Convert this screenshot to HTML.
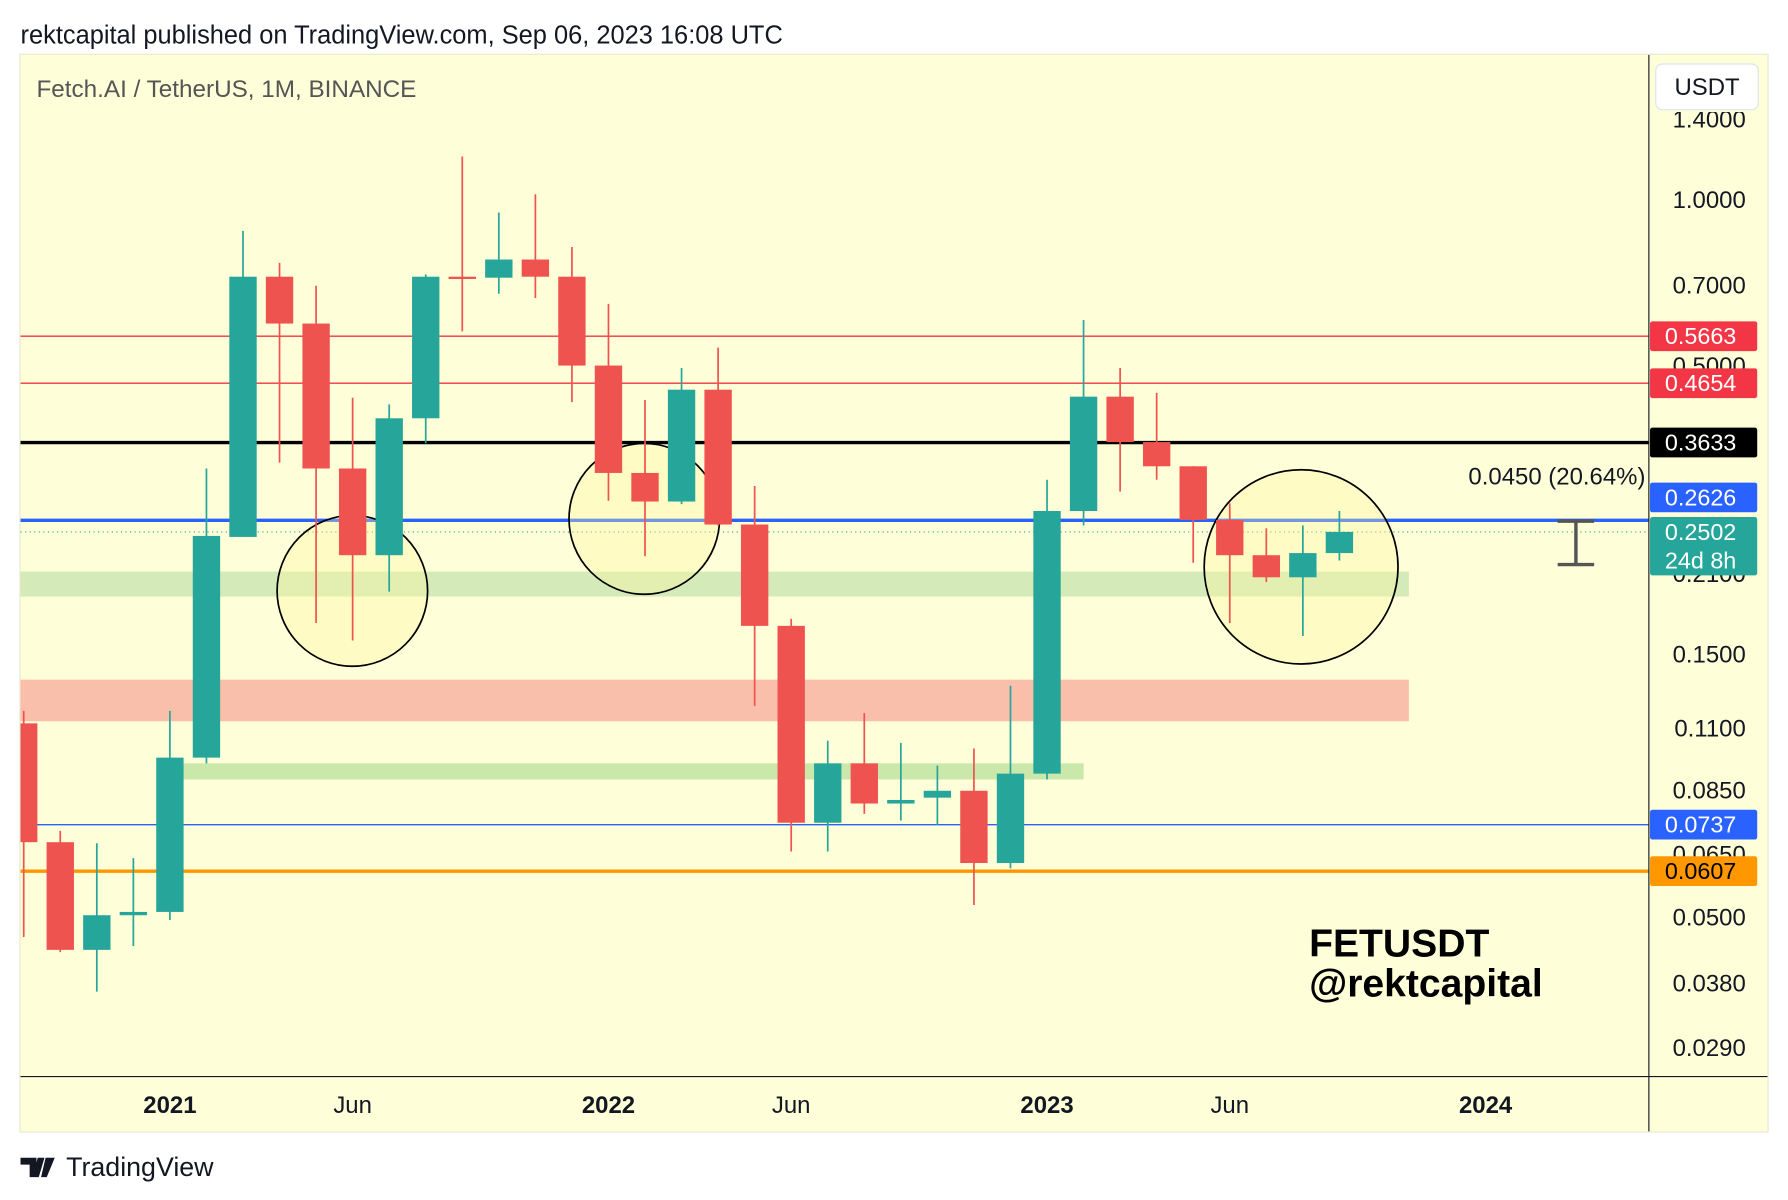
<!DOCTYPE html>
<html><head><meta charset="utf-8">
<style>
html,body{margin:0;padding:0;background:#fff;}
svg{display:block;font-family:"Liberation Sans",Arial,sans-serif;}
</style></head>
<body>
<svg id="chart" width="1788" height="1200" viewBox="0 0 1568 1050" preserveAspectRatio="none" xmlns="http://www.w3.org/2000/svg">
  <rect x="0" y="0" width="1568" height="1050" fill="#ffffff"/>
  <text x="18" y="38" font-size="22.3" fill="#131722">rektcapital published on TradingView.com, Sep 06, 2023 16:08 UTC</text>
  <rect x="17.5" y="47.5" width="1533" height="943" fill="#fefed8" stroke="#e8e8d0"/>
  <g id="plot"></g>
  <text x="32" y="85" font-size="21.3" fill="#555">Fetch.AI / TetherUS, 1M, BINANCE</text>
  <g>
    <rect x="1452" y="56" width="90" height="40" rx="6" fill="#fff" stroke="#e0e3eb"/>
    <text x="1497" y="83" font-size="21" text-anchor="middle" fill="#131722">USDT</text>
  </g>
  <text x="1148" y="837" font-size="34.3" font-weight="bold" fill="#000">FETUSDT</text>
  <text x="1148" y="872" font-size="34.3" font-weight="bold" fill="#000">@rektcapital</text>
  <g>
    <path d="M18 1013h14v17h-6v-11h-8z M33 1013h6l-5 17h-5z M40 1013h8l-7 17h-5z" fill="#131722"/>
    <text x="58" y="1029" font-size="23.5" fill="#131722">TradingView</text>
  </g>
</svg>
<script>
const months = ["Sep20","Oct20","Nov20","Dec20","Jan21","Feb21","Mar21","Apr21","May21","Jun21","Jul21","Aug21","Sep21","Oct21","Nov21","Dec21","Jan22","Feb22","Mar22","Apr22","May22","Jun22","Jul22","Aug22","Sep22","Oct22","Nov22","Dec22","Jan23","Feb23","Mar23","Apr23","May23","Jun23","Jul23","Aug23","Sep23"];
const opens  = [0.1125,0.0685,0.0437,0.0505,0.0512,0.0975,0.245,0.726,0.597,0.326,0.227,0.402,0.726,0.723,0.780,0.726,0.501,0.320,0.284,0.453,0.258,0.169,0.0743,0.0952,0.0805,0.0825,0.0849,0.0628,0.0912,0.273,0.440,0.364,0.329,0.263,0.227,0.207,0.229];
const highs  = [0.1185,0.0718,0.0682,0.0641,0.1185,0.326,0.879,0.769,0.699,0.438,0.426,0.733,1.199,0.949,1.024,0.822,0.648,0.434,0.496,0.540,0.303,0.174,0.1047,0.1174,0.1037,0.0943,0.1013,0.1316,0.311,0.606,0.496,0.447,0.329,0.282,0.254,0.257,0.273];
const lows   = [0.0461,0.0433,0.0367,0.0444,0.0495,0.0952,0.245,0.334,0.171,0.159,0.195,0.362,0.578,0.676,0.664,0.430,0.285,0.226,0.281,0.257,0.121,0.0659,0.0659,0.0771,0.0750,0.0735,0.0527,0.0614,0.0890,0.257,0.296,0.311,0.220,0.171,0.203,0.162,0.222];
const closes = [0.0685,0.0437,0.0505,0.0512,0.0975,0.246,0.726,0.597,0.326,0.227,0.402,0.726,0.723,0.780,0.726,0.501,0.320,0.284,0.453,0.258,0.169,0.0743,0.0952,0.0805,0.0817,0.0849,0.0628,0.0912,0.273,0.440,0.364,0.329,0.263,0.227,0.207,0.229,0.2502];
const tickValues = [1.4,1.0,0.7,0.5,0.21,0.15,0.11,0.085,0.065,0.05,0.038,0.029];
const tickLabels = ["1.4000","1.0000","0.7000","0.5000","0.2100","0.1500","0.1100","0.0850","0.0650","0.0500","0.0380","0.0290"];
const levelValues = [0.5663,0.4654,0.3633,0.2626,0.0737,0.0607];
const levelLabels = ["0.5663","0.4654","0.3633","0.2626","0.0737","0.0607"];
const levelColors = ["#f23645","#f23645","#000000","#2962ff","#2962ff","#ff9800"];
const levelWidths = [1.2,1.2,3,3,1.2,3];
const timeLabels = ["2021","Jun","2022","Jun","2023","Jun","2024"];
const timeIndex = [4,9,16,21,28,33,40];
const zoneTop = [0.212,0.135,0.0952];
const zoneBottom = [0.191,0.1135,0.0890];
const zoneStart = [0,0,4.35];
const zoneEnd = [38.4,38.4,29.5];
const zoneColors = ["#cfe8b5","#f9b8a6","#c5e6a6"];
const lastPrice = 0.2502;

const NS="http://www.w3.org/2000/svg";
const svg=document.getElementById('chart');
const plot=document.getElementById('plot');
const PL=18, PR=1446, PT=48, PB=942;
function y(p){return 175-209.6*Math.log(p);}
function x(i){return 149+(i-4)*32.05;}
function mk(tag,attrs,parent){const e=document.createElementNS(NS,tag);for(const k in attrs)e.setAttribute(k,attrs[k]);(parent||plot).appendChild(e);return e;}

const defs=mk('defs',{},svg);
const cp=mk('clipPath',{id:'clip'},defs);
mk('rect',{x:PL,y:PT,width:PR-PL,height:PB-PT},cp);
plot.setAttribute('clip-path','url(#clip)');

for(let k=0;k<zoneTop.length;k++){
  const r=mk('rect',{x:x(zoneStart[k])-16,y:y(zoneTop[k]),width:x(zoneEnd[k])-x(zoneStart[k]),height:y(zoneBottom[k])-y(zoneTop[k]),fill:zoneColors[k],opacity:0.9});
  
  
}
for(let k=0;k<levelValues.length;k++){
  const l=mk('line',{x1:PL,x2:PR,y1:y(levelValues[k]),y2:y(levelValues[k]),stroke:levelColors[k],'stroke-width':levelWidths[k]});
  
  
}
const lp=mk('line',{x1:PL,x2:PR,y1:y(lastPrice),y2:y(lastPrice),stroke:'#26a69a','stroke-width':1,'stroke-dasharray':'1 3'});



const circles=[[309,517,66,66],[565,454,66,66],[1141,496,85,85]];
circles.forEach((cc,k)=>{
  const e=mk('ellipse',{cx:cc[0],cy:cc[1],rx:cc[2],ry:cc[3],fill:'#fffaa0','fill-opacity':0.35,stroke:'#000','stroke-width':1.5});
  
  
});

for(let i=0;i<months.length;i++){
  const up=closes[i]>=opens[i];
  const c=up?'#26a69a':'#ef5350';
  const g=mk('g',{});
  
  
  mk('line',{x1:x(i),x2:x(i),y1:y(highs[i]),y2:y(lows[i]),stroke:c,'stroke-width':1.5},g);
  const t=y(Math.max(opens[i],closes[i])), b=y(Math.min(opens[i],closes[i]));
  mk('rect',{x:x(i)-12,y:t,width:24,height:Math.max(2,b-t),fill:c},g);
}

const mg=mk('g',{stroke:'#555','stroke-width':3});


mk('line',{x1:1366,x2:1398,y1:456,y2:456},mg);
mk('line',{x1:1366,x2:1398,y1:494,y2:494},mg);
mk('line',{x1:1382,x2:1382,y1:456,y2:494},mg);
const mt=mk('text',{x:1443,y:424,'font-size':21,fill:'#131722','text-anchor':'end'},svg);
mt.textContent='0.0450 (20.64%)';



const ax=mk('line',{x1:PR,x2:PR,y1:PT,y2:990,stroke:'#131722','stroke-width':1},svg);


const bx=mk('line',{x1:PL,x2:1550,y1:PB,y2:PB,stroke:'#131722','stroke-width':1},svg);



const axclip=mk('clipPath',{id:'axclip'},defs);
mk('rect',{x:PR,y:PT+50,width:110,height:PB-PT-50},axclip);
const tg=mk('g',{'clip-path':'url(#axclip)'},svg);
for(let k=0;k<tickValues.length;k++){
  const t=mk('text',{x:1531,y:y(tickValues[k])+7,'font-size':21,fill:'#131722','text-anchor':'end'},tg);
  t.textContent=tickLabels[k];
  
  
}
for(let k=0;k<levelValues.length;k++){
  let cy=y(levelValues[k]);
  if(levelLabels[k]==="0.2626") cy-=20;
  const g=mk('g',{},svg);
  
  
  mk('rect',{x:1447,y:cy-13,width:94,height:26,rx:2,fill:levelColors[k]},g);
  const t=mk('text',{x:1460,y:cy+7,'font-size':20.5,fill:levelLabels[k]==="0.0607"?'#000':'#fff'},g);
  t.textContent=levelLabels[k];
}
const lg=mk('g',{},svg);


mk('rect',{x:1447,y:y(lastPrice)-13,width:94,height:51,rx:2,fill:'#26a69a'},lg);
const l1=mk('text',{x:1460,y:y(lastPrice)+7,'font-size':20.5,fill:'#fff'},lg);
l1.textContent=lastPrice.toFixed(4);
const l2=mk('text',{x:1460,y:y(lastPrice)+32,'font-size':20.5,fill:'#fff'},lg);
l2.textContent='24d 8h';

for(let k=0;k<timeLabels.length;k++){
  const isYear=/^\d{4}$/.test(timeLabels[k]);
  const t=mk('text',{x:x(timeIndex[k]),y:974,'font-size':21,fill:'#131722','text-anchor':'middle','font-weight':isYear?'bold':'normal'},svg);
  t.textContent=timeLabels[k];
  
  
}
</script>
</body></html>
